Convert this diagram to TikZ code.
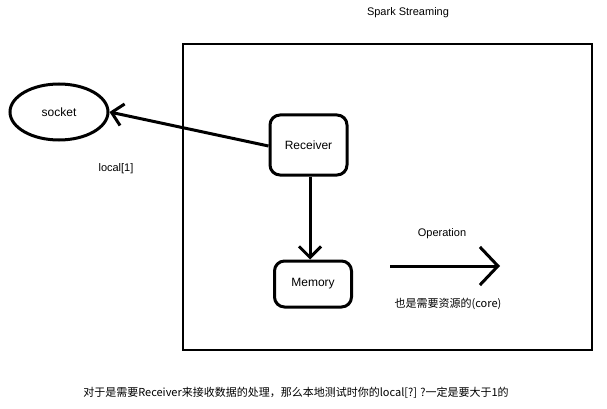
\documentclass[tikz,border=0pt]{standalone}
\usepackage{fontspec}
\setmainfont{Liberation Sans}
\newfontfamily\cjk{Noto Sans CJK SC}
\usepackage{tikz}
\usetikzlibrary{arrows.meta,shapes.geometric}

\begin{document}
\begin{tikzpicture}[x=1pt,y=-1pt,line width=3pt,
	>={Straight Barb[length=11pt,width=22pt,line width=3pt]}]
	\tikzstyle{box}=[draw,rounded corners=10pt,minimum width=77pt,minimum height=60pt,font=\fontsize{12}{14}\selectfont]
	\tikzstyle{label}=[font=\fontsize{11}{13}\selectfont,inner sep=0pt]

	\useasboundingbox (0,0) rectangle (607,409);

	\node[label] (title) at (408,13) {Spark Streaming};
	\node[draw,minimum width=409pt,minimum height=306pt,inner sep=0pt,line width=2.4pt] (spark) at (387.5,197) {};

	\node[draw,ellipse,minimum width=98pt,minimum height=56pt,font=\fontsize{12}{14}\selectfont] (socket) at (59,112) {socket};
	\node[label] (local) at (116,169) {local[1]};
	\node[box]                        (R) at (308.5,145) {Receiver};
	\node[box,minimum height=46pt]    (M) at (313,284) {Memory};

	\coordinate (opA) at (390,266);
	\coordinate (opB) at (500,266);
	\node[label] (op) at (442,234) {Operation};
	\node[label] (core) at (448,304) {\cjk 也是需要资源的(core)};

	\node[label] (note) at (296,393) {\cjk 对于是需要Receiver来接收数据的处理，那么本地测试时你的local[?] ?一定是要大于1的};

	\path[->]
	(R.west|-0,146) edge (socket.east)
	(R.south-|310,0) edge (M.north-|310,0);
	\draw[-{Straight Barb[length=18pt,width=38pt,line width=3pt]}] (opA) -- (opB);
\end{tikzpicture}
\end{document}
